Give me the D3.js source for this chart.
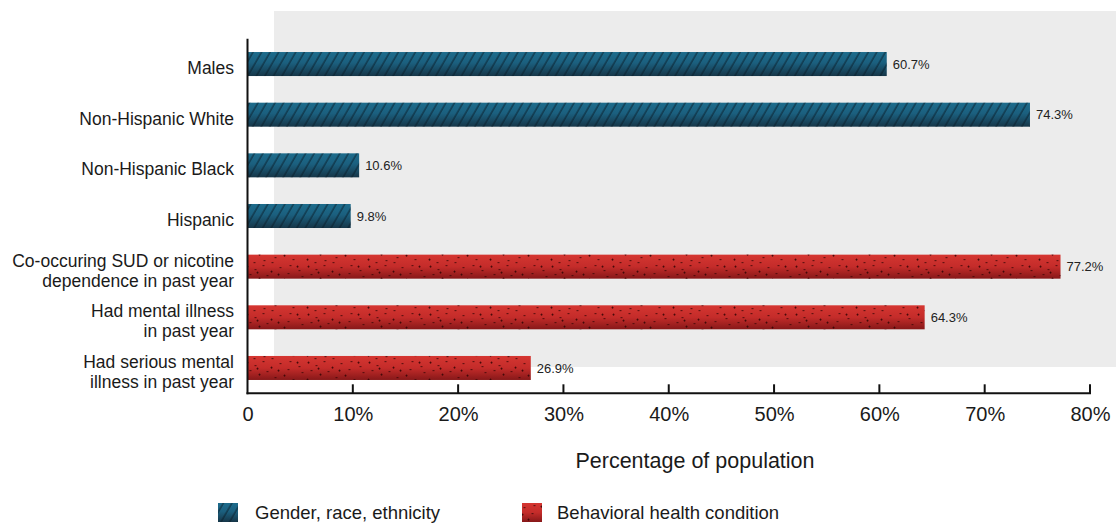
<!DOCTYPE html>
<html>
<head>
<meta charset="utf-8">
<script src="https://cdn.jsdelivr.net/npm/d3@7/dist/d3.min.js"></script>
<style>
  html, body { margin: 0; padding: 0; background: #fff; }
  svg { display: block; font-family: "Liberation Sans", Arial, Helvetica, sans-serif; }
</style>
</head>
<body>
<svg id="chart" width="1116" height="524"></svg>
<script>
// Share of the population in each group
const categories = [
  ["Males"],
  ["Non-Hispanic White"],
  ["Non-Hispanic Black"],
  ["Hispanic"],
  ["Co-occuring SUD or nicotine", "dependence in past year"],
  ["Had mental illness", "in past year"],
  ["Had serious mental", "illness in past year"]
];
const values = [60.7, 74.3, 10.6, 9.8, 77.2, 64.3, 26.9];
const groups = ["demo", "demo", "demo", "demo", "bh", "bh", "bh"];
const legendLabels = ["Gender, race, ethnicity", "Behavioral health condition"];
const tickValues = [0, 10, 20, 30, 40, 50, 60, 70, 80];
const tickLabels = ["0", "10%", "20%", "30%", "40%", "50%", "60%", "70%", "80%"];

const svg = d3.select("#chart");
const W = 1116, H = 524;
const plotLeft = 247.5, plotRight = 1090, plotTop = 38.7, plotBottom = 393.3;

const x = d3.scaleLinear().domain([0, 80]).range([plotLeft, plotRight]);
const y = d3.scaleBand()
  .domain(d3.range(categories.length))
  .range([plotTop, plotBottom])
  .paddingInner(0.526)
  .paddingOuter(0.263);

// ---- fills: gradients + textures ----
const defs = svg.append("defs");

const gBlue = defs.append("linearGradient").attr("id", "gradBlue")
  .attr("x1", 0).attr("y1", 0).attr("x2", 0).attr("y2", 1);
gBlue.append("stop").attr("offset", "0%").attr("stop-color", "#1d6c8c");
gBlue.append("stop").attr("offset", "45%").attr("stop-color", "#1b5f7e");
gBlue.append("stop").attr("offset", "100%").attr("stop-color", "#163648");

const gRed = defs.append("linearGradient").attr("id", "gradRed")
  .attr("x1", 0).attr("y1", 0).attr("x2", 0).attr("y2", 1);
gRed.append("stop").attr("offset", "0%").attr("stop-color", "#d53631");
gRed.append("stop").attr("offset", "50%").attr("stop-color", "#c42c2a");
gRed.append("stop").attr("offset", "100%").attr("stop-color", "#871819");

// diagonal hatch ("/" strokes)
const hatch = defs.append("pattern").attr("id", "hatch")
  .attr("patternUnits", "userSpaceOnUse")
  .attr("width", 7.4).attr("height", 10)
  .attr("patternTransform", "rotate(30)");
hatch.append("line").attr("x1", 1).attr("y1", 0).attr("x2", 1).attr("y2", 10)
  .attr("stroke", "#081b28").attr("stroke-opacity", 0.85).attr("stroke-width", 1);

// speckle texture: scattered dark flecks, a few drawn as small crosses
const specks = [
  [3,2],[11,5],[19,1],[27,7],[36,3],[44,9],[53,2],[58,12],
  [6,10],[15,14],[23,11],[31,17],[40,15],[49,19],[55,6],
  [2,19],[10,22],[20,20],[34,10],[46,1],[28,22],[13,8]
];
const dots = defs.append("pattern").attr("id", "specks")
  .attr("patternUnits", "userSpaceOnUse")
  .attr("width", 61).attr("height", 24);
dots.selectAll("rect.h").data(specks).join("rect").attr("class", "h")
  .attr("x", d => d[0] - 0.5).attr("y", d => d[1])
  .attr("width", 2).attr("height", 1.2)
  .attr("fill", "#3a0606").attr("fill-opacity", 0.7);
dots.selectAll("rect.v").data(specks.filter((d, i) => i % 3 === 0)).join("rect").attr("class", "v")
  .attr("x", d => d[0]).attr("y", d => d[1] - 0.5)
  .attr("width", 1.1).attr("height", 2.2)
  .attr("fill", "#3a0606").attr("fill-opacity", 0.7);

// ---- background panel ----
svg.append("rect")
  .attr("x", 274).attr("y", 11)
  .attr("width", W - 274).attr("height", 367 - 11)
  .attr("fill", "#ececec");

// ---- bars ----
const bars = svg.append("g");
const rows = bars.selectAll("g.row").data(values).join("g").attr("class", "row");
rows.append("rect")
  .attr("x", x(0))
  .attr("y", (d, i) => y(i))
  .attr("width", d => x(d) - x(0))
  .attr("height", y.bandwidth())
  .attr("fill", (d, i) => groups[i] === "demo" ? "url(#gradBlue)" : "url(#gradRed)");
rows.append("rect")
  .attr("x", x(0))
  .attr("y", (d, i) => y(i))
  .attr("width", d => x(d) - x(0))
  .attr("height", y.bandwidth())
  .attr("fill", (d, i) => groups[i] === "demo" ? "url(#hatch)" : "url(#specks)");

// value labels
rows.append("text")
  .attr("x", d => x(d) + 6)
  .attr("y", (d, i) => y(i) + y.bandwidth() / 2)
  .attr("dy", "0.35em")
  .attr("font-size", 13)
  .attr("fill", "#222")
  .text(d => d + "%");

// ---- axes ----
const xAxis = d3.axisBottom(x)
  .tickValues(tickValues)
  .tickFormat((d, i) => tickLabels[i])
  .tickSize(0)
  .tickPadding(14);
const gx = svg.append("g").attr("transform", `translate(0,${plotBottom})`).call(xAxis);
gx.select(".domain").remove();
gx.selectAll("text").attr("font-size", 20).attr("fill", "#1a1a1a")
  .attr("font-family", "\"Liberation Sans\", Arial, sans-serif");

// baseline and upward ticks
svg.append("line")
  .attr("x1", x(0) - 1).attr("x2", x(80) + 1)
  .attr("y1", plotBottom).attr("y2", plotBottom)
  .attr("stroke", "#111").attr("stroke-width", 2);
svg.append("g").selectAll("line").data(tickValues.slice(1)).join("line")
  .attr("x1", d => x(d)).attr("x2", d => x(d))
  .attr("y1", plotBottom - 9).attr("y2", plotBottom)
  .attr("stroke", "#111").attr("stroke-width", 2);

// vertical axis line
svg.append("line")
  .attr("x1", x(0)).attr("x2", x(0))
  .attr("y1", plotTop).attr("y2", plotBottom + 1)
  .attr("stroke", "#111").attr("stroke-width", 2);

// category labels
const catG = svg.append("g");
categories.forEach((lines, i) => {
  const cy = y(i) + y.bandwidth() / 2 + 4;
  const lh = 20;
  const t = catG.append("text")
    .attr("text-anchor", "end")
    .attr("font-size", 17.5)
    .attr("fill", "#1a1a1a");
  lines.forEach((ln, j) => {
    t.append("tspan")
      .attr("x", 234)
      .attr("y", cy + (j - (lines.length - 1) / 2) * lh)
      .attr("dy", "0.35em")
      .text(ln);
  });
});

// axis title
svg.append("text")
  .attr("x", 695).attr("y", 460)
  .attr("dy", "0.35em")
  .attr("text-anchor", "middle")
  .attr("font-size", 21.5)
  .attr("fill", "#1a1a1a")
  .text("Percentage of population");

// ---- legend ----
const legend = svg.append("g");
const legendItems = [
  { x: 218, tx: 255, base: "url(#gradBlue)", tex: "url(#hatch)", label: legendLabels[0] },
  { x: 522, tx: 557, base: "url(#gradRed)", tex: "url(#specks)", label: legendLabels[1] }
];
legendItems.forEach(it => {
  legend.append("rect").attr("x", it.x).attr("y", 503).attr("width", 20).attr("height", 19).attr("fill", it.base);
  legend.append("rect").attr("x", it.x).attr("y", 503).attr("width", 20).attr("height", 19).attr("fill", it.tex);
  legend.append("text")
    .attr("x", it.tx).attr("y", 512.5)
    .attr("dy", "0.35em")
    .attr("font-size", 18.5)
    .attr("fill", "#1a1a1a")
    .text(it.label);
});
</script>
</body>
</html>
